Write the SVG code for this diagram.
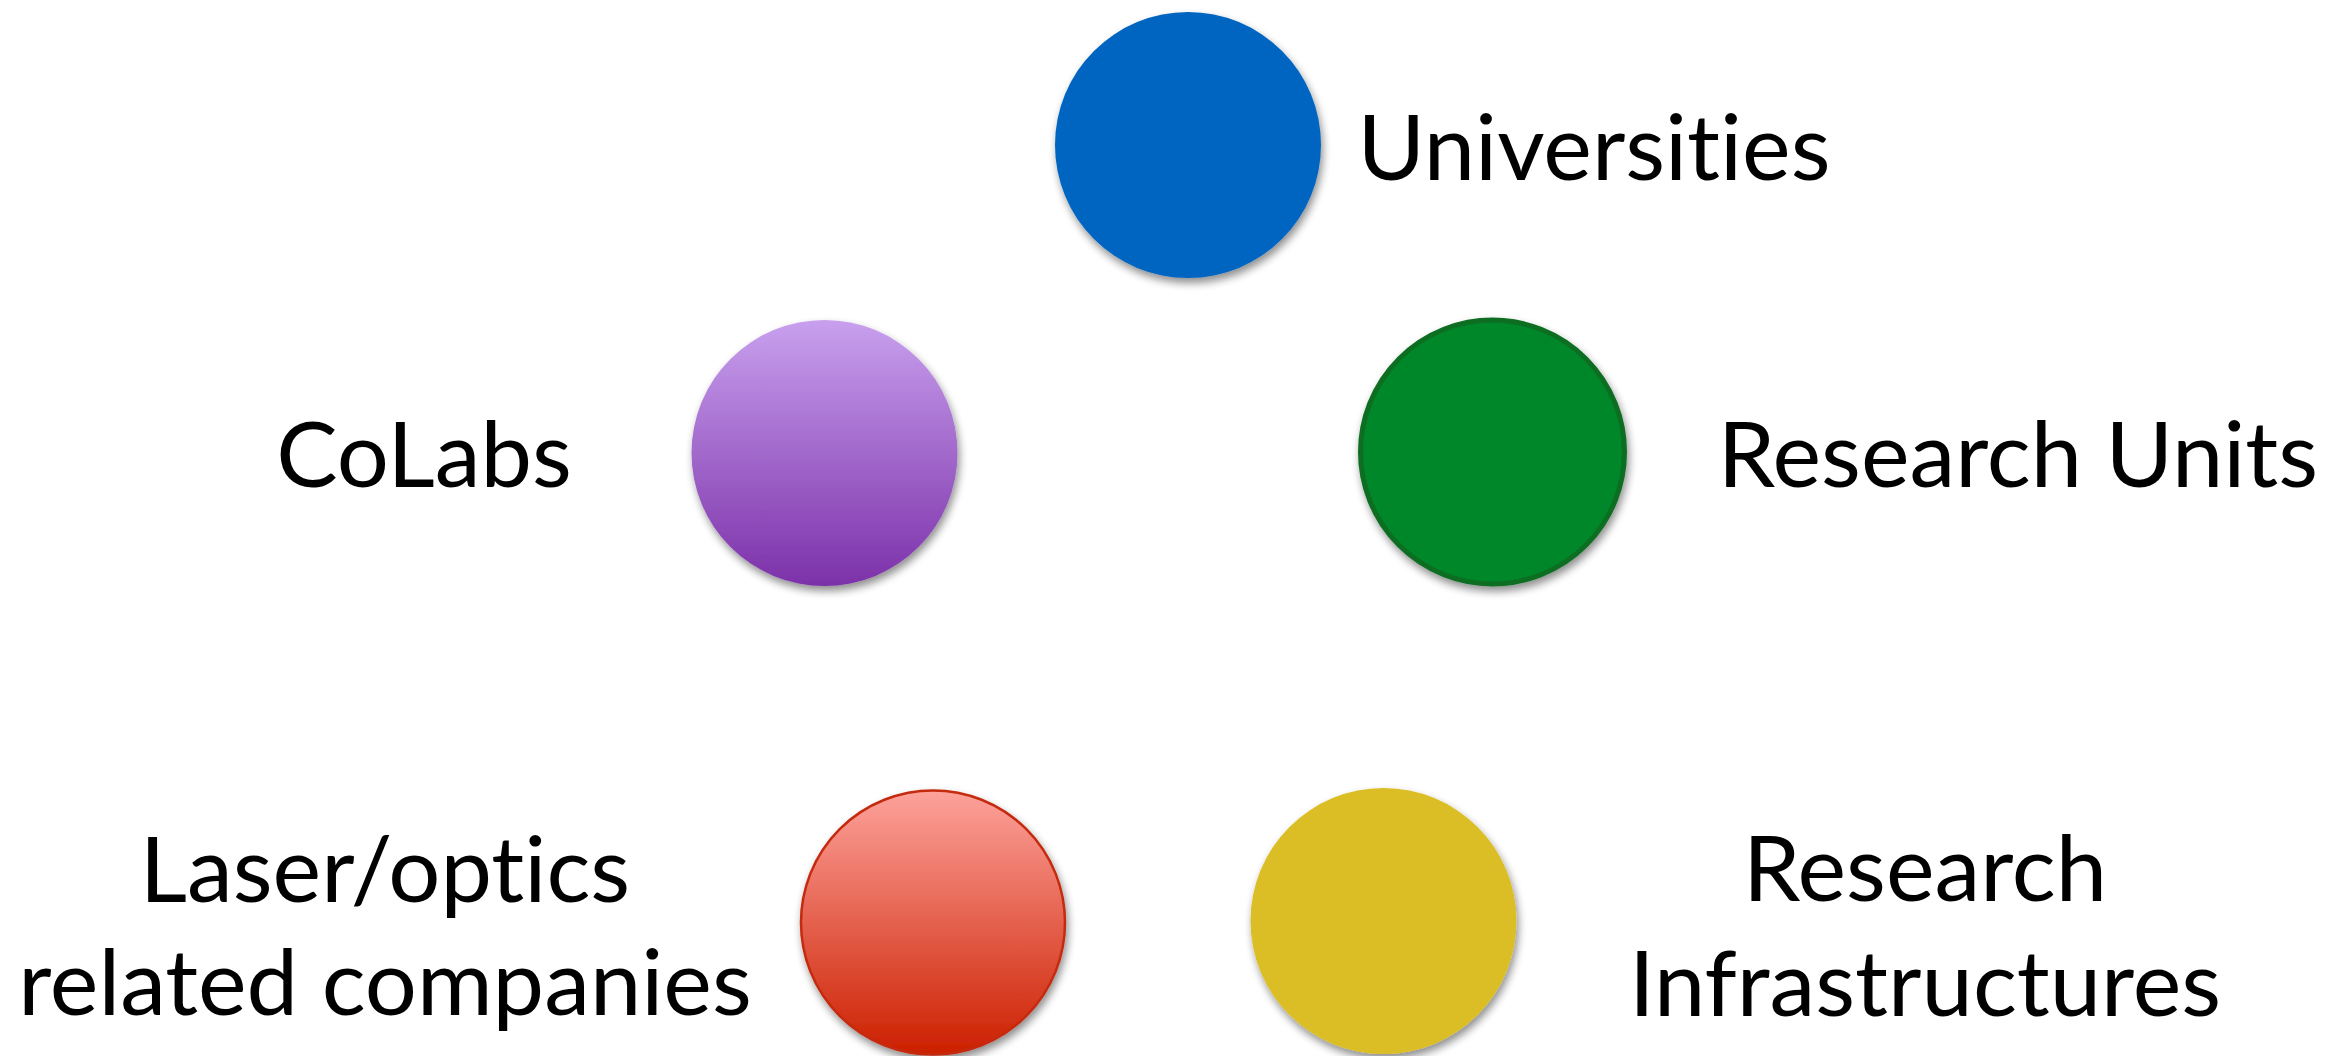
<svg xmlns="http://www.w3.org/2000/svg" width="2344" height="1056" viewBox="0 0 2344 1056">
<style>
.lbl{font-family:Lato,"Open Sans","Liberation Sans",sans-serif;font-size:92px;fill:#000;text-anchor:middle;font-variant-ligatures:none;font-feature-settings:"liga" 0}
.c{filter:url(#sh)}
</style>
<defs>
<filter id="sh" x="-20%" y="-20%" width="140%" height="150%">
<feGaussianBlur in="SourceAlpha" stdDeviation="4"/>
<feOffset dx="2" dy="5" result="b"/>
<feComponentTransfer><feFuncA type="linear" slope="0.45"/></feComponentTransfer>
<feMerge><feMergeNode/><feMergeNode in="SourceGraphic"/></feMerge>
</filter>
<linearGradient id="gp" x1="0" y1="0" x2="0" y2="1">
<stop offset="0" stop-color="#C8A0EE"/>
<stop offset="1" stop-color="#7C31A9"/>
</linearGradient>
<linearGradient id="gr" x1="0" y1="0" x2="0" y2="1">
<stop offset="0" stop-color="#FDA29B"/>
<stop offset="1" stop-color="#CC2000"/>
</linearGradient>
</defs>
<rect width="2344" height="1056" fill="#fff"/>
<g id="connectors"></g>
<g id="universities">
<circle class="c" cx="1188" cy="145" r="133" fill="#0565C0"/>
<text class="lbl" x="1594" y="180">Universities</text>
</g>
<g id="colabs">
<circle class="c" cx="824.5" cy="453" r="133" fill="url(#gp)"/>
<text class="lbl" x="424" y="487">CoLabs</text>
</g>
<g id="research-units">
<circle class="c" cx="1492.5" cy="452" r="132" fill="#00872A" stroke="#0A6E24" stroke-width="5"/>
<text class="lbl" x="2018" y="487">Research Units</text>
</g>
<g id="companies">
<circle class="c" cx="933" cy="922.5" r="132" fill="url(#gr)" stroke="#C42A10" stroke-width="2.5"/>
<text class="lbl" x="385" y="902">Laser/optics</text>
<text class="lbl" x="385" y="1015">related companies</text>
</g>
<g id="infrastructures">
<circle class="c" cx="1383.5" cy="921" r="133" fill="#DBBE26"/>
<text class="lbl" x="1925" y="901">Research</text>
<text class="lbl" x="1925" y="1016">Infrastructures</text>
</g>
</svg>
